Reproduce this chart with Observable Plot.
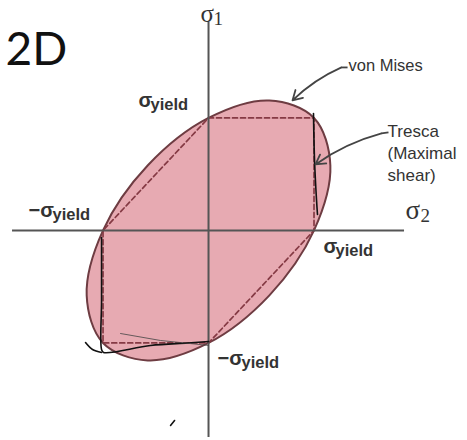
<!DOCTYPE html>
<html><head><meta charset="utf-8">
<script src="https://cdn.jsdelivr.net/npm/d3@7"></script>
<script src="https://cdn.jsdelivr.net/npm/@observablehq/plot@0.6"></script>
<style>body{margin:0;background:#fff}</style>
</head><body><div id="chart"></div>
<script>
// von Mises ellipse (sigma_2, sigma_1) in units of sigma_yield
const vmX = [1, 0.577, 0, -0.577, -1, -1.155, -1, -0.577, 0, 0.577, 1, 1.155];
const vmY = [1, 1.155, 1, 0.577, 0, -0.577, -1, -1.155, -1, -0.577, 0, 0.577];
// Tresca hexagon
const trX = [0, 1, 1, 0, -1, -1];
const trY = [1, 1, 0, -1, -1, 0];
// hand-drawn pen marks
const penId = ["a","a","a","a", "b","b","b","b","b","b","b", "c","c","c", "e","e"];
const penX  = [0.995,1.005,1.024,1.033, -1.014,-1.014,-1.014,-0.995,-0.55,-0.2,0, -1.166,-1.1,-1.014, -0.36,-0.322];
const penY  = [1.04,0.622,0.267,0.142, -0.062,-0.622,-1.058,-1.084,-1.022,-1.0,-0.987, -0.996,-1.058,-1.084, -1.733,-1.689];
const thinX = [-0.834,-0.455,0];
const thinY = [-0.916,-0.978,-1.022];
// annotation arrows: stub start, bend point, tip
const arrowsData = [
  {sx:1.318, sy:1.449, x1:1.26, y1:1.449, x2:0.796, y2:1.156},
  {sx:1.706, sy:0.871, x1:1.64, y1:0.862, x2:1.014, y2:0.587}
];

const ellipse = vmX.map((x,i)=>({x, y: vmY[i]}));
const tresca = trX.map((x,i)=>({x, y: trY[i]}));
const pen = penX.map((x,i)=>({id: penId[i], x, y: penY[i]}));
const thin = thinX.map((x,i)=>({x, y: thinY[i]}));

const yieldLabels = [
  {x:-0.664, y:1.093, s:"σ", dx:12},
  {x:-1.706, y:0.124, s:"−σ", dx:24},
  {x:1.090, y:-0.196, s:"σ", dx:12},
  {x:0.085, y:-1.20, s:"−σ", dx:24}
];
const textCol = "#333";
const plot = Plot.plot({
  width:467, height:440, margin:0,
  x:{domain:[-1.972,2.455], axis:null},
  y:{domain:[-1.867,2.044], axis:null},
  style:{background:"#fff", overflow:"visible"},
  marks:[
    Plot.line(ellipse, {x:"x", y:"y", curve:"catmull-rom-closed", fill:"#e7aab2", stroke:"#6e3c42", strokeWidth:2}),
    Plot.line(tresca, {x:"x", y:"y", curve:"linear-closed", stroke:"#853a44", strokeWidth:1.7, strokeDasharray:"5,3"}),
    Plot.ruleY([0], {x1:-1.858, x2:1.858, stroke:"#555", strokeWidth:2}),
    Plot.ruleX([0], {y1:-1.84, y2:1.849, stroke:"#555", strokeWidth:2}),
    Plot.line(pen, {x:"x", y:"y", z:"id", curve:"catmull-rom", stroke:"#111", strokeWidth:1.6}),
    Plot.line(thin, {x:"x", y:"y", stroke:"#444", strokeWidth:0.8}),
    // yield labels
    ...yieldLabels.map(d => Plot.text([d], {x:"x", y:"y", text:"s", textAnchor:"start", lineAnchor:"bottom", fontFamily:"Liberation Sans", fontWeight:"bold", fontSize:20, fill:textCol})),
    ...yieldLabels.map(d => Plot.text([d], {x:"x", y:"y", text:()=>"yield", dx:d.dx, dy:3, textAnchor:"start", lineAnchor:"bottom", fontFamily:"Liberation Sans", fontWeight:"bold", fontSize:16.5, fill:textCol})),
    // axis names
    Plot.text([{x:-0.076, y:1.849}], {x:"x", y:"y", text:()=>"σ", textAnchor:"start", lineAnchor:"bottom", fontFamily:"Liberation Serif", fontSize:25, fill:"#333"}),
    Plot.text([{x:-0.076, y:1.849}], {x:"x", y:"y", text:()=>"1", dx:13, dy:3, textAnchor:"start", lineAnchor:"bottom", fontFamily:"Liberation Serif", fontSize:19, fill:"#333"}),
    Plot.text([{x:1.867, y:0.098}], {x:"x", y:"y", text:()=>"σ", textAnchor:"start", lineAnchor:"bottom", fontFamily:"Liberation Serif", fontSize:27, fill:"#333"}),
    Plot.text([{x:1.867, y:0.098}], {x:"x", y:"y", text:()=>"2", dx:15, dy:3, textAnchor:"start", lineAnchor:"bottom", fontFamily:"Liberation Serif", fontSize:19, fill:"#333"}),
    // annotations
    Plot.text([{x:1.327, y:1.413}], {x:"x", y:"y", text:()=>"von Mises", textAnchor:"start", lineAnchor:"bottom", fontFamily:"Liberation Sans", fontSize:16.5, fill:"#333"}),
    Plot.text([{x:1.697, y:0.436}], {x:"x", y:"y", text:()=>"Tresca\n(Maximal\nshear)", textAnchor:"start", lineAnchor:"bottom", lineHeight:1.3, fontFamily:"Liberation Sans", fontSize:17, fill:"#333"}),
    Plot.link(arrowsData, {x1:"sx", y1:"sy", x2:"x1", y2:"y1", stroke:"#444", strokeWidth:1.8}),
    Plot.arrow(arrowsData, {x1:"x1", y1:"y1", x2:"x2", y2:"y2", bend:-10, stroke:"#444", strokeWidth:1.8, headLength:9}),
    // 2D title
    Plot.text([{x:-1.924, y:1.467}], {x:"x", y:"y", text:()=>"2D", textAnchor:"start", lineAnchor:"bottom", fontFamily:"Lato", fontSize:46, fill:"#111"})
  ]
});
document.getElementById("chart").appendChild(plot);
</script>
</body></html>
